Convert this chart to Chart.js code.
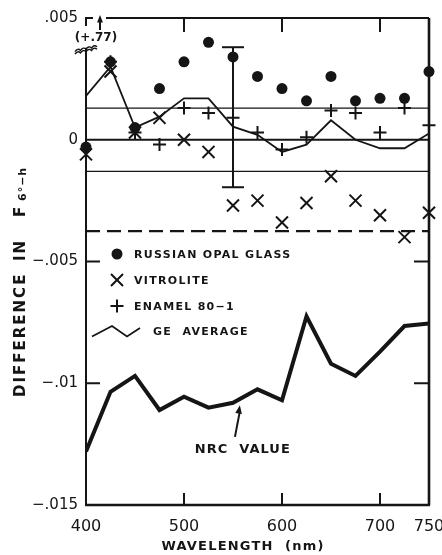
<!DOCTYPE html>
<html>
<head>
<meta charset="utf-8">
<script src="https://cdn.jsdelivr.net/npm/chart.js@4.4.1/dist/chart.umd.min.js"></script>
<style>
  html, body { margin: 0; padding: 0; background: #fff; }
  #wrap { width: 442px; height: 555px; }
</style>
</head>
<body>
<div id="wrap"><canvas id="diffChart" width="442" height="555"></canvas></div>
<script>
// wavelength grid (nm) and the measured differences in F 6°-h
const wavelengths = [400, 425, 450, 475, 500, 525, 550, 575, 600, 625, 650, 675, 700, 725, 750];
const russianOpal = [-0.0003, 0.0032, 0.0005, 0.0021, 0.0032, 0.0040, 0.0034, 0.0026, 0.0021, 0.0016, 0.0026, 0.0016, 0.0017, 0.0017, 0.0028];
const vitrolite   = [-0.0006, 0.0028, 0.0003, 0.0009, 0.0000, -0.0005, -0.0027, -0.0025, -0.0034, -0.0026, -0.0015, -0.0025, -0.0031, -0.0040, -0.0030];
// 400 nm enamel value is off scale (+.77), shown with an arrow instead
const enamel      = [null, 0.0032, 0.0003, -0.0002, 0.0013, 0.0011, 0.0009, 0.0003, -0.0004, 0.0001, 0.0012, 0.0011, 0.0003, 0.0013, 0.0006];
const geAverage   = [0.0018, 0.0030, 0.0005, 0.00095, 0.0017, 0.0017, 0.00054, 0.0002, -0.0005, -0.0002, 0.0008, 0.0000, -0.00035, -0.00035, 0.00026];
const nrcValue    = [-0.0128, -0.01035, -0.0097, -0.0111, -0.01055, -0.0110, -0.0108, -0.01025, -0.0107, -0.00725, -0.0092, -0.0097, -0.0087, -0.00765, -0.00755];

const xTicks = [400, 500, 600, 700, 750];
const yTicks = [0.005, 0, -0.005, -0.01, -0.015];
const innerTicksX = [500, 600, 700];
const innerTicksY = [-0.005, -0.01];

const bandLimit = 0.0013;
const dashedLevel = -0.00375;
const errorBarX = 550;
const errorBarRange = [0.0038, -0.00195];

const INK = '#151515';

function pairs(values) {
  return wavelengths.map((w, i) => ({ x: w, y: values[i] }));
}

function level(v) {
  return [{ x: wavelengths[0], y: v }, { x: wavelengths[wavelengths.length - 1], y: v }];
}

function tickLabel(v) {
  if (v === 0) return '0';
  return String(v).replace('0.', '.').replace('-', '\u2212');
}

function lineSet(data, width, extra) {
  return Object.assign({
    type: 'line', data: data, borderColor: INK, borderWidth: width,
    pointRadius: 0, tension: 0, fill: false
  }, extra || {});
}

function markerSet(label, data, style, radius, extra) {
  return Object.assign({
    type: 'line', label: label, data: data, showLine: false,
    pointStyle: style, pointRadius: radius, pointHoverRadius: radius,
    pointBackgroundColor: INK, pointBorderColor: INK, pointBorderWidth: 2,
    clip: false
  }, extra || {});
}

function arrowHead(ctx, fromX, fromY, toX, toY, size) {
  const ang = Math.atan2(toY - fromY, toX - fromX);
  ctx.beginPath();
  ctx.moveTo(toX, toY);
  ctx.lineTo(toX - size * Math.cos(ang - 0.38), toY - size * Math.sin(ang - 0.38));
  ctx.lineTo(toX - size * Math.cos(ang + 0.38), toY - size * Math.sin(ang + 0.38));
  ctx.closePath();
  ctx.fill();
}

// frame, inward ticks, legend and labels
const decorations = {
  id: 'decorations',
  afterDraw(chart) {
    const { ctx, chartArea: a, scales: { x, y } } = chart;
    ctx.save();
    ctx.strokeStyle = INK;
    ctx.fillStyle = INK;
    ctx.lineCap = 'butt';

    // left axis is broken near the top
    const breakY = y.getPixelForValue(0.0037);
    ctx.lineWidth = 2;
    ctx.beginPath();
    ctx.moveTo(a.left, breakY - 2);
    ctx.lineTo(a.left, a.bottom);
    ctx.moveTo(a.left, a.top + 8);
    ctx.lineTo(a.left, a.top);
    ctx.lineTo(a.left + 7, a.top);
    ctx.moveTo(a.left + 20, a.top);
    ctx.lineTo(a.right, a.top);
    ctx.stroke();
    ctx.lineWidth = 2.6;
    ctx.beginPath();
    ctx.moveTo(a.right, a.top);
    ctx.lineTo(a.right, a.bottom);
    ctx.moveTo(a.left - 1, a.bottom);
    ctx.lineTo(a.right + 1, a.bottom);
    ctx.stroke();

    // break mark
    ctx.lineWidth = 1.4;
    for (const off of [0, 2.5]) {
      ctx.beginPath();
      const y0 = breakY + off;
      ctx.moveTo(a.left - 11, y0 + 2);
      for (let k = 0; k < 4; k++) {
        const sx = a.left - 11 + k * 5.5;
        ctx.quadraticCurveTo(sx + 2.75, y0 + 2 - k * 1.2 - 4, sx + 5.5, y0 + 2 - (k + 1) * 1.2);
      }
      ctx.stroke();
    }

    // off-scale arrow for enamel at 400 nm
    const ax = a.left + 14;
    ctx.lineWidth = 2;
    ctx.beginPath();
    ctx.moveTo(ax, a.top + 12);
    ctx.lineTo(ax, a.top + 3);
    ctx.stroke();
    arrowHead(ctx, ax, a.top + 12, ax, a.top - 3, 8);
    ctx.font = 'bold 12px "DejaVu Sans"';
    ctx.textAlign = 'center';
    ctx.textBaseline = 'middle';
    ctx.fillText('(+.77)', a.left + 10, a.top + 20);

    // inward tick marks
    ctx.lineWidth = 2;
    ctx.beginPath();
    innerTicksX.forEach(v => {
      const px = x.getPixelForValue(v);
      ctx.moveTo(px, a.bottom);
      ctx.lineTo(px, a.bottom - 12);
      ctx.moveTo(px, a.top);
      ctx.lineTo(px, a.top + 14);
    });
    innerTicksY.forEach(v => {
      const py = y.getPixelForValue(v);
      ctx.moveTo(a.left, py);
      ctx.lineTo(a.left + 14, py);
      ctx.moveTo(a.right, py);
      ctx.lineTo(a.right - 15, py);
    });
    ctx.stroke();

    // legend inside the plot
    const rowY = [a.top + 236, a.top + 262, a.top + 288, a.top + 313];
    const mx = a.left + 31;
    const tx = a.left + 48;
    ctx.lineWidth = 2;
    Chart.helpers.drawPoint(ctx, { pointStyle: 'circle', radius: 5.5, borderWidth: 0, rotation: 0 }, mx, rowY[0]);
    Chart.helpers.drawPoint(ctx, { pointStyle: 'crossRot', radius: 8.5, borderWidth: 2, rotation: 0 }, mx, rowY[1]);
    Chart.helpers.drawPoint(ctx, { pointStyle: 'cross', radius: 6.5, borderWidth: 2, rotation: 0 }, mx, rowY[2]);
    ctx.lineWidth = 1.8;
    ctx.beginPath();
    ctx.moveTo(a.left + 6, rowY[3] + 5.5);
    ctx.lineTo(a.left + 26, rowY[3] - 5);
    ctx.lineTo(a.left + 41, rowY[3] + 5.5);
    ctx.lineTo(a.left + 54, rowY[3] - 3);
    ctx.stroke();

    ctx.font = 'bold 11px "DejaVu Sans"';
    ctx.letterSpacing = '1.3px';
    ctx.textAlign = 'left';
    ctx.fillText('RUSSIAN OPAL GLASS', tx, rowY[0] + 1);
    ctx.fillText('VITROLITE', tx, rowY[1] + 1);
    ctx.fillText('ENAMEL 80\u22121', tx, rowY[2] + 1);
    ctx.fillText('GE  AVERAGE', a.left + 67, rowY[3] + 1);

    // NRC label with its pointer
    const tipX = x.getPixelForValue(557), tipY = y.getPixelForValue(-0.0109);
    const tailX = x.getPixelForValue(552), tailY = y.getPixelForValue(-0.0122);
    ctx.lineWidth = 2;
    ctx.beginPath();
    ctx.moveTo(tailX, tailY);
    ctx.lineTo(tipX, tipY + 6);
    ctx.stroke();
    arrowHead(ctx, tailX, tailY, tipX, tipY, 9);
    ctx.font = 'bold 13px "DejaVu Sans"';
    ctx.letterSpacing = '1px';
    ctx.fillText('NRC  VALUE', x.getPixelForValue(511), y.getPixelForValue(-0.01274));

    // axis titles
    ctx.font = 'bold 13px "DejaVu Sans"';
    ctx.letterSpacing = '1.2px';
    ctx.textAlign = 'center';
    ctx.fillText('WAVELENGTH  (nm)', a.left + 157, a.bottom + 42);

    ctx.translate(21, a.bottom - 108);
    ctx.rotate(-Math.PI / 2);
    ctx.textAlign = 'left';
    ctx.font = 'bold 15px "DejaVu Sans"';
    ctx.letterSpacing = '2px';
    ctx.fillText('DIFFERENCE', 0, 0);
    ctx.fillText('IN', 136, 0);
    ctx.fillText('F', 180, 0);
    ctx.font = 'bold 11px "DejaVu Sans"';
    ctx.letterSpacing = '1px';
    ctx.fillText('6\u00b0\u2212h', 196, 2);
    ctx.restore();
  }
};

new Chart(document.getElementById('diffChart').getContext('2d'), {
  type: 'line',
  data: {
    datasets: [
      markerSet('RUSSIAN OPAL GLASS', pairs(russianOpal), 'circle', 5.5, { pointBorderWidth: 0 }),
      markerSet('VITROLITE', pairs(vitrolite), 'crossRot', 8.5),
      markerSet('ENAMEL 80-1', pairs(enamel), 'cross', 6.5),
      lineSet([{ x: errorBarX, y: errorBarRange[0] }, { x: errorBarX, y: errorBarRange[1] }], 2, {
        pointStyle: 'line', pointRadius: 11, pointBorderWidth: 2, pointBorderColor: INK, clip: false
      }),
      lineSet(pairs(geAverage), 1.8, { label: 'GE AVERAGE', borderJoinStyle: 'miter' }),
      lineSet(pairs(nrcValue), 4, { label: 'NRC VALUE', borderJoinStyle: 'miter' }),
      lineSet(level(0), 2),
      lineSet(level(bandLimit), 1.2),
      lineSet(level(-bandLimit), 1.2),
      lineSet(level(dashedLevel), 2.2, { borderDash: [14, 7] })
    ]
  },
  options: {
    responsive: false,
    animation: false,
    events: [],
    layout: { padding: { top: 18, right: 11, left: 0, bottom: 0 } },
    plugins: {
      legend: { display: false },
      tooltip: { enabled: false }
    },
    scales: {
      x: {
        type: 'linear',
        min: 400,
        max: 750,
        grid: { display: false },
        border: { display: false },
        afterBuildTicks: scale => { scale.ticks = xTicks.map(v => ({ value: v })); },
        afterFit: scale => { scale.height = 50; scale.paddingLeft = 0; scale.paddingRight = 0; },
        ticks: {
          autoSkip: false,
          maxRotation: 0,
          padding: 4,
          color: INK,
          font: { family: 'DejaVu Sans', size: 16 }
        }
      },
      y: {
        type: 'linear',
        min: -0.015,
        max: 0.005,
        grid: { display: false },
        border: { display: false },
        afterBuildTicks: scale => { scale.ticks = yTicks.map(v => ({ value: v })); },
        afterFit: scale => { scale.width = 86; scale.paddingTop = 0; scale.paddingBottom = 0; },
        ticks: {
          padding: 0,
          color: INK,
          callback: v => tickLabel(v),
          font: { family: 'DejaVu Sans', size: 15 }
        }
      }
    }
  },
  plugins: [decorations]
});
</script>
</body>
</html>
